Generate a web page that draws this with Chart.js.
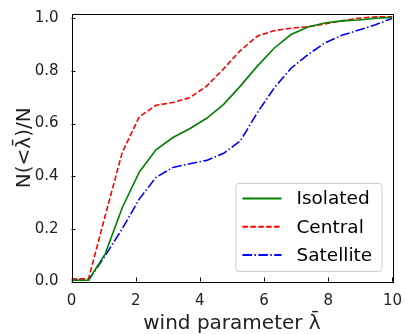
<!DOCTYPE html>
<html>
<head>
<meta charset="utf-8">
<script src="https://cdn.jsdelivr.net/npm/chart.js@4.4.1/dist/chart.umd.min.js"></script>
<style>
html,body{margin:0;padding:0;background:#fff;}
#wrap{width:405px;height:334px;position:relative;}
</style>
</head>
<body>
<div id="wrap"><canvas id="c" width="405" height="334"></canvas></div>
<script>
// wind parameter bins
const lambdaBins = [0, 0.53, 1.05, 1.58, 2.11, 2.63, 3.16, 3.68, 4.21, 4.74, 5.26, 5.79, 6.32, 6.84, 7.37, 7.89, 8.42, 8.95, 9.47, 10];
const isolated  = [0.005, 0.005, 0.105, 0.28, 0.415, 0.50, 0.547, 0.58, 0.62, 0.673, 0.742, 0.818, 0.887, 0.938, 0.967, 0.982, 0.99, 0.993, 1.0, 1.003];
const central   = [0.01, 0.01, 0.25, 0.49, 0.625, 0.669, 0.68, 0.698, 0.742, 0.808, 0.877, 0.932, 0.953, 0.962, 0.968, 0.978, 0.99, 1.0, 1.005, 1.005];
const satellite = [0.005, 0.005, 0.098, 0.20, 0.313, 0.395, 0.433, 0.447, 0.46, 0.487, 0.534, 0.641, 0.736, 0.81, 0.862, 0.906, 0.935, 0.955, 0.975, 1.0];
const seriesNames = ['Isolated', 'Central', 'Satellite'];
const xTicks = [0, 2, 4, 6, 8, 10];
const yTicks = [0.0, 0.2, 0.4, 0.6, 0.8, 1.0];

const FONT = "'DejaVu Sans', sans-serif";
const toPts = (ys) => ys.map((y, i) => ({x: lambdaBins[i], y: y}));

const styles = [
  {color: '#008000', dash: []},
  {color: '#ff0000', dash: [5.5, 2.4]},
  {color: '#0000ff', dash: [9.6, 2.4, 1.5, 2.4]}
];
const allSeries = [isolated, central, satellite];

const frameAndTicks = {
  id: 'frameAndTicks',
  afterDraw(chart) {
    const {ctx, chartArea: a, scales} = chart;
    ctx.save();
    ctx.strokeStyle = '#000';
    ctx.lineWidth = 1;
    // inward ticks
    const tl = 4;
    ctx.beginPath();
    xTicks.forEach(v => {
      const px = Math.round(scales.x.getPixelForValue(v)) + 0.5;
      ctx.moveTo(px, a.bottom); ctx.lineTo(px, a.bottom - tl);
    });
    yTicks.forEach(v => {
      const py = Math.round(scales.y.getPixelForValue(v)) + 0.5;
      ctx.moveTo(a.left, py); ctx.lineTo(a.left + tl, py);
    });
    ctx.stroke();
    // frame
    ctx.strokeRect(Math.round(a.left) + 0.5, Math.round(a.top) + 0.5,
                   Math.round(a.right - a.left), Math.round(a.bottom - a.top));

    // legend
    const lw = 146, lh = 88;
    const lx = a.right - 11 - lw, ly = a.bottom - 10.5 - lh;
    ctx.beginPath();
    if (ctx.roundRect) ctx.roundRect(lx + 0.5, ly + 0.5, lw, lh, 3);
    else ctx.rect(lx + 0.5, ly + 0.5, lw, lh);
    ctx.fillStyle = 'rgba(255,255,255,0.8)';
    ctx.fill();
    ctx.strokeStyle = '#cccccc';
    ctx.stroke();
    ctx.font = '18.5px ' + FONT;
    ctx.textBaseline = 'middle';
    ctx.textAlign = 'left';
    chart.data.datasets.forEach((ds, i) => {
      const ry = ly + 15.5 + i * 28.3;
      ctx.beginPath();
      ctx.setLineDash(ds.borderDash || []);
      ctx.strokeStyle = ds.borderColor;
      ctx.lineWidth = 2;
      ctx.moveTo(lx + 7, ry); ctx.lineTo(lx + 46, ry);
      ctx.stroke();
      ctx.setLineDash([]);
      ctx.fillStyle = '#000';
      ctx.fillText(ds.label, lx + 61, ry + 1);
    });
    ctx.restore();
  }
};

new Chart(document.getElementById('c'), {
  type: 'scatter',
  data: {
    datasets: allSeries.map((s, i) => ({
      label: seriesNames[i],
      data: toPts(s),
      showLine: true,
      borderColor: styles[i].color,
      backgroundColor: styles[i].color,
      borderDash: styles[i].dash,
      borderWidth: 1.6,
      pointRadius: 0,
      tension: 0,
      fill: false
    }))
  },
  options: {
    responsive: false,
    animation: false,
    layout: {padding: {left: 0, top: 13, right: 11.5, bottom: 0}},
    plugins: {legend: {display: false}, tooltip: {enabled: false}},
    scales: {
      x: {
        type: 'linear', min: 0, max: 10,
        grid: {display: false},
        border: {display: false},
        afterBuildTicks: (sc) => { sc.ticks = xTicks.map(v => ({value: v})); },
        afterFit: (sc) => { sc.height = 52.5; },
        ticks: {
          font: {family: FONT, size: 15}, color: '#222', padding: 3,
          maxRotation: 0, autoSkip: false,
          callback: (v) => String(v)
        },
        title: {
          display: true, text: 'wind parameter \u03BB\u0304',
          font: {family: FONT, size: 20, lineHeight: 1.0}, color: '#222',
          padding: {top: 0, bottom: 0}
        }
      },
      y: {
        type: 'linear', min: 0, max: 1.016,
        grid: {display: false},
        border: {display: false},
        afterBuildTicks: (sc) => { sc.ticks = yTicks.map(v => ({value: v})); },
        afterFit: (sc) => { sc.width = 71.5; },
        ticks: {
          font: {family: FONT, size: 15}, color: '#222', padding: 5,
          autoSkip: false,
          callback: (v) => Number(v).toFixed(1)
        },
        title: {
          display: true, text: 'N(<\u03BB\u0304)/N',
          font: {family: FONT, size: 20, lineHeight: 1.2}, color: '#222',
          padding: {top: 13, bottom: 0}
        }
      }
    }
  },
  plugins: [frameAndTicks]
});
</script>
</body>
</html>
